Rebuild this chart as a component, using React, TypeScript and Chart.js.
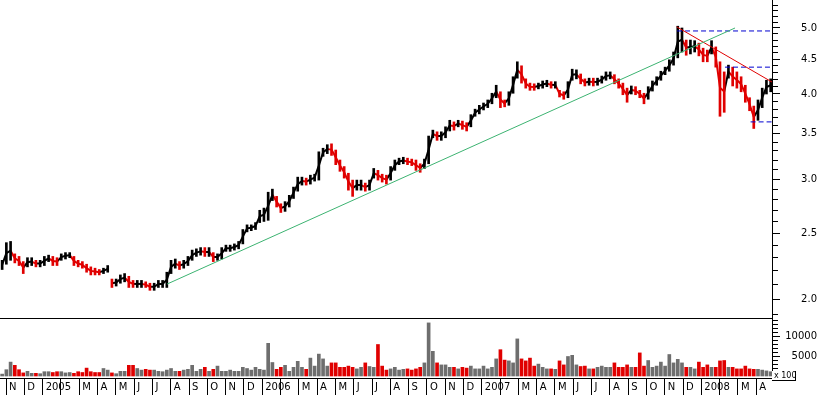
import React, { useEffect, useRef } from 'react';
import { Chart, registerables } from 'chart.js';

Chart.register(...registerables);

// Month tick labels, one per month starting November 2004 (February is left unlabeled)
const MONTH_LABELS = [
  'N', 'D',
  '2005', '', 'M', 'A', 'M', 'J', 'J', 'A', 'S', 'O', 'N', 'D',
  '2006', '', 'M', 'A', 'M', 'J', 'J', 'A', 'S', 'O', 'N', 'D',
  '2007', '', 'M', 'A', 'M', 'J', 'J', 'A', 'S', 'O', 'N', 'D',
  '2008', '', 'M', 'A',
];

// x unit: months after 1 Nov 2004; one bar per week
const FIRST_WEEK = -0.213;
const WEEK_STEP = 12 / 52;
const X_MIN = -0.33;
const X_MAX = 41.86;
const GAP_BEFORE_WEEK = 26; // price series has a gap (no trading data) before this week

// weekly high / low prices
const HIGH = [
  2.28, 2.42, 2.43, 2.33, 2.31, 2.27, 2.30, 2.30, 2.28, 2.28,
  2.31, 2.32, 2.31, 2.30, 2.33, 2.34, 2.34, 2.31, 2.28, 2.27,
  2.25, 2.23, 2.22, 2.21, 2.22, 2.24, 2.14, 2.14, 2.17, 2.18,
  2.16, 2.13, 2.13, 2.13, 2.12, 2.11, 2.11, 2.13, 2.13, 2.19,
  2.28, 2.29, 2.27, 2.28, 2.31, 2.36, 2.37, 2.38, 2.38, 2.38,
  2.34, 2.33, 2.38, 2.40, 2.40, 2.41, 2.43, 2.53, 2.57, 2.57,
  2.59, 2.70, 2.72, 2.87, 2.90, 2.83, 2.76, 2.78, 2.84, 2.92,
  3.02, 3.02, 3.01, 3.04, 3.05, 3.29, 3.33, 3.37, 3.38, 3.31,
  3.20, 3.13, 3.06, 2.99, 2.99, 2.99, 2.96, 2.99, 3.11, 3.09,
  3.05, 3.04, 3.13, 3.20, 3.22, 3.23, 3.22, 3.21, 3.20, 3.16,
  3.21, 3.47, 3.54, 3.52, 3.52, 3.58, 3.66, 3.64, 3.66, 3.65,
  3.63, 3.73, 3.80, 3.85, 3.88, 3.92, 4.01, 4.12, 4.03, 3.92,
  4.03, 4.24, 4.46, 4.40, 4.21, 4.15, 4.14, 4.15, 4.18, 4.19,
  4.17, 4.17, 4.05, 4.03, 4.17, 4.35, 4.34, 4.28, 4.21, 4.22,
  4.22, 4.22, 4.25, 4.31, 4.31, 4.27, 4.21, 4.15, 4.08, 4.11,
  4.10, 4.05, 4.01, 4.10, 4.18, 4.24, 4.32, 4.38, 4.49, 4.61,
  5.03, 5.00, 4.80, 4.80, 4.79, 4.75, 4.67, 4.64, 4.79, 4.69,
  4.46, 4.31, 4.41, 4.38, 4.31, 4.24, 4.12, 3.95, 3.84, 3.92,
  4.08, 4.19, 4.21,
];
const LOW = [
  2.21, 2.25, 2.28, 2.26, 2.24, 2.18, 2.23, 2.24, 2.23, 2.23,
  2.24, 2.27, 2.24, 2.24, 2.28, 2.29, 2.30, 2.24, 2.23, 2.22,
  2.19, 2.17, 2.17, 2.17, 2.18, 2.19, 2.08, 2.09, 2.11, 2.12,
  2.08, 2.08, 2.08, 2.08, 2.08, 2.06, 2.06, 2.08, 2.08, 2.08,
  2.18, 2.22, 2.21, 2.22, 2.24, 2.28, 2.31, 2.32, 2.31, 2.31,
  2.27, 2.28, 2.29, 2.35, 2.35, 2.36, 2.37, 2.41, 2.51, 2.52,
  2.53, 2.59, 2.60, 2.61, 2.79, 2.73, 2.68, 2.69, 2.73, 2.81,
  2.88, 2.94, 2.94, 2.95, 2.98, 2.99, 3.24, 3.27, 3.25, 3.15,
  3.08, 3.01, 2.89, 2.83, 2.89, 2.89, 2.88, 2.89, 3.01, 2.99,
  2.97, 2.95, 2.99, 3.09, 3.15, 3.16, 3.15, 3.14, 3.09, 3.07,
  3.11, 3.16, 3.45, 3.42, 3.42, 3.45, 3.53, 3.54, 3.58, 3.55,
  3.53, 3.58, 3.71, 3.74, 3.79, 3.82, 3.87, 3.95, 3.82, 3.83,
  3.85, 4.01, 4.22, 4.15, 4.08, 4.05, 4.05, 4.07, 4.08, 4.10,
  4.08, 4.08, 3.96, 3.93, 3.95, 4.19, 4.21, 4.14, 4.11, 4.12,
  4.11, 4.12, 4.15, 4.19, 4.21, 4.14, 4.08, 3.99, 3.89, 4.00,
  3.99, 3.95, 3.87, 3.93, 4.04, 4.12, 4.19, 4.27, 4.32, 4.41,
  4.52, 4.61, 4.56, 4.58, 4.61, 4.55, 4.46, 4.46, 4.58, 4.38,
  3.71, 3.76, 4.22, 4.11, 4.08, 4.03, 3.89, 3.78, 3.56, 3.66,
  3.82, 4.00, 4.03,
];
// weekly volume (x 100)
const VOLUME = [
  600, 1700, 3600, 2800, 1700, 900, 1300, 800, 800, 700,
  1200, 1200, 1000, 1200, 1200, 900, 1000, 800, 1200, 1000,
  2100, 1200, 1000, 1000, 2000, 1600, 900, 700, 1300, 1300,
  2800, 2800, 2000, 1600, 1800, 1600, 1600, 1300, 1200, 1600,
  2000, 1300, 1300, 1600, 1800, 2800, 1300, 1800, 2300, 1300,
  1800, 2600, 1300, 1300, 1600, 1300, 1300, 2300, 2000, 1600,
  2300, 1800, 1600, 8300, 3500, 1800, 2300, 2800, 1300, 2300,
  3800, 2300, 1800, 4600, 2600, 5600, 4400, 2600, 3400, 3400,
  2300, 2300, 2600, 2300, 1900, 2300, 3400, 2500, 2300, 8000,
  2600, 1600, 1900, 2300, 1600, 1800, 1900, 1600, 1900, 2300,
  3400, 13400, 6300, 3400, 2900, 2900, 2300, 2300, 1900, 2300,
  2100, 2600, 1900, 1900, 2600, 1900, 2300, 4400, 6700, 4100,
  3900, 3400, 9400, 4400, 3900, 4600, 2600, 3100, 2300, 1900,
  1900, 1800, 3900, 2900, 5000, 5300, 2900, 2500, 2600, 1900,
  1900, 2300, 2600, 2300, 2300, 3400, 2300, 2300, 2900, 2300,
  2300, 5900, 2600, 4000, 2300, 2600, 3600, 2600, 5500, 3400,
  4300, 3400, 2300, 2300, 1900, 3600, 2300, 2900, 2300, 2300,
  3900, 4000, 2300, 2300, 1900, 1900, 2600, 1900, 1800, 1800,
  1600, 1400, 1200,
];

// price axis
const PRICE_MIN = 1.876;
const PRICE_MAX = 5.496;
const PRICE_LABELS = [2.0, 2.5, 3.0, 3.5, 4.0, 4.5, 5.0];
const PRICE_MINOR_FIRST = 19; // tenths
const PRICE_MINOR_LAST = 54;
// volume axis
const VOL_MIN = -375;
const VOL_MAX = 14625;
const VOLUME_LABELS = [5000, 10000];
const VOLUME_MINOR_STEP = 1000;

// drawn lines (x in months after 1 Nov 2004, y in price)
const TREND_UP = [{ x: 8.8, y: 2.104 }, { x: 39.84, y: 5.0 }];
const TREND_DOWN = [{ x: 36.65, y: 5.02 }, { x: 41.86, y: 4.165 }];
const LEVEL_HIGH = [{ x: 36.67, y: 4.95 }, { x: 41.86, y: 4.95 }];
const LEVEL_MID = [{ x: 39.29, y: 4.38 }, { x: 41.86, y: 4.38 }];
const LEVEL_LOW = [{ x: 40.69, y: 3.64 }, { x: 41.86, y: 3.64 }];

const RED = '#e00000';
const BLACK = '#000000';
const GREY = '#6e6e6e';
const GREEN = '#3cb371';
const BLUE = '#0000d0';
const FONT = { family: 'DejaVu Sans', size: 10 };

const isPriceLabel = (v: number) => PRICE_LABELS.some((p) => Math.abs(p - v) < 1e-6);
const isVolLabel = (v: number) => VOLUME_LABELS.some((p) => Math.abs(p - v) < 1e-6);

export default function App() {
  const ref = useRef<HTMLCanvasElement>(null);

  useEffect(() => {
    document.body.style.margin = '0';
    const weekX = (k: number) => FIRST_WEEK + k * WEEK_STEP;
    const mids = HIGH.map((h, i) => (h + LOW[i]) / 2);
    const down = mids.map((m, i) => i > 0 && m < mids[i - 1]);
    const priceData = HIGH.map((h, i) => ({ x: weekX(i), y: [LOW[i], h] }));
    const midData = mids.map((m, i) => ({ x: weekX(i), y: m }));
    const volData = VOLUME.map((v, i) => ({ x: weekX(i), y: v }));

    const lineDs = (data: any, color: string, dash: number[] = []) => ({
      type: 'line' as const,
      data,
      borderColor: color,
      borderWidth: 1,
      borderDash: dash,
      pointRadius: 0,
      fill: false,
      tension: 0,
      xAxisID: 'x',
      yAxisID: 'y',
      order: 0,
    });

    const priceTicks: number[] = [];
    for (let t = PRICE_MINOR_FIRST; t <= PRICE_MINOR_LAST; t++) priceTicks.push(t / 10);
    const volTicks: number[] = [];
    for (let v = 0; v < VOL_MAX; v += VOLUME_MINOR_STEP) volTicks.push(v);

    const chart = new Chart(ref.current as HTMLCanvasElement, {
      type: 'bar',
      data: {
        datasets: [
          lineDs(TREND_UP, GREEN),
          lineDs(TREND_DOWN, RED),
          lineDs(LEVEL_HIGH, BLUE, [5, 3]),
          lineDs(LEVEL_MID, BLUE, [5, 3]),
          lineDs(LEVEL_LOW, BLUE, [5, 3]),
          {
            type: 'bar',
            data: priceData as any,
            backgroundColor: down.map((d) => (d ? RED : BLACK)),
            barThickness: 2,
            grouped: false,
            xAxisID: 'x',
            yAxisID: 'y',
            order: 1,
          },
          {
            type: 'line',
            data: midData as any,
            borderWidth: 2,
            borderColor: BLACK,
            segment: {
              borderColor: (c: any) =>
                c.p1DataIndex === GAP_BEFORE_WEEK ? 'rgba(0,0,0,0)' : down[c.p1DataIndex] ? RED : BLACK,
            },
            pointRadius: 0,
            tension: 0,
            xAxisID: 'x',
            yAxisID: 'y',
            order: 2,
          },
          {
            type: 'bar',
            data: volData as any,
            backgroundColor: down.map((d) => (d ? RED : GREY)),
            barThickness: 3,
            grouped: false,
            xAxisID: 'x',
            yAxisID: 'yv',
            order: 1,
          },
        ] as any,
      },
      options: {
        animation: false,
        responsive: false,
        devicePixelRatio: 1,
        layout: { padding: 0 },
        plugins: { legend: { display: false }, tooltip: { enabled: false } },
        scales: {
          x: {
            type: 'linear',
            min: X_MIN,
            max: X_MAX,
            offset: false,
            afterBuildTicks: (s: any) => {
              s.ticks = MONTH_LABELS.map((_, i) => ({ value: i }));
            },
            afterFit: (s: any) => {
              s.height = 17;
              s.paddingLeft = 0;
              s.paddingRight = 0;
            },
            ticks: {
              autoSkip: false,
              maxRotation: 0,
              minRotation: 0,
              align: 'start',
              labelOffset: 3,
              padding: -14,
              color: BLACK,
              font: FONT,
              callback: (v: any) => MONTH_LABELS[Math.round(Number(v))] ?? '',
            },
            grid: {
              offset: false,
              drawOnChartArea: false,
              drawTicks: true,
              tickLength: 17,
              tickColor: BLACK,
              tickWidth: 1,
            },
            border: { display: true, color: BLACK, width: 1 },
          },
          y: {
            type: 'logarithmic',
            position: 'right',
            stack: 'panels',
            stackWeight: 318,
            min: PRICE_MIN,
            max: PRICE_MAX,
            afterBuildTicks: (s: any) => {
              s.ticks = [{ value: PRICE_MIN }, ...priceTicks.map((v) => ({ value: v }))];
            },
            afterFit: (s: any) => {
              s.width = 45;
              s.paddingTop = 0;
              s.paddingBottom = 0;
            },
            ticks: {
              autoSkip: false,
              crossAlign: 'far',
              padding: 13,
              color: BLACK,
              font: FONT,
              callback: (v: any) => (isPriceLabel(Number(v)) ? Number(v).toFixed(1) : ''),
            },
            grid: {
              drawOnChartArea: true,
              tickLength: 8,
              color: (c: any) => (c.tick && Math.abs(c.tick.value - PRICE_MIN) < 1e-6 ? BLACK : 'rgba(0,0,0,0)'),
              tickColor: (c: any) => (c.tick && Math.abs(c.tick.value - PRICE_MIN) < 1e-6 ? 'rgba(0,0,0,0)' : BLACK),
              tickBorderDash: (c: any) => (c.tick && isPriceLabel(c.tick.value) ? [] : [5, 40]),
            },
            border: { display: true, color: BLACK, width: 1 },
          },
          yv: {
            type: 'linear',
            position: 'right',
            stack: 'panels',
            stackWeight: 60,
            min: VOL_MIN,
            max: VOL_MAX,
            afterBuildTicks: (s: any) => {
              s.ticks = volTicks.map((v) => ({ value: v }));
            },
            afterFit: (s: any) => {
              s.width = 45;
              s.paddingTop = 0;
              s.paddingBottom = 0;
            },
            ticks: {
              autoSkip: false,
              crossAlign: 'far',
              padding: -2,
              color: BLACK,
              font: FONT,
              callback: (v: any) => (isVolLabel(Number(v)) ? String(v) : ''),
            },
            grid: {
              drawOnChartArea: false,
              tickLength: 8,
              tickColor: BLACK,
              tickBorderDash: (c: any) => (c.tick && isVolLabel(c.tick.value) ? [] : [5, 40]),
            },
            border: { display: true, color: BLACK, width: 1 },
          },
        } as any,
      },
    });
    return () => chart.destroy();
  }, []);

  return (
    <div style={{ position: 'relative', width: 817, height: 395, background: '#fff' }}>
      <canvas ref={ref} width={817} height={395} style={{ display: 'block' }} />
      <div
        style={{
          position: 'absolute',
          left: 772,
          top: 371,
          width: 24,
          height: 10,
          borderRight: '1px solid #000',
          borderBottom: '1px solid #000',
          font: '8px "DejaVu Sans"',
          lineHeight: '10px',
          paddingLeft: 2,
          boxSizing: 'border-box',
          whiteSpace: 'nowrap',
          color: '#000',
          background: '#fff',
        }}
      >
        x 100
      </div>
    </div>
  );
}
